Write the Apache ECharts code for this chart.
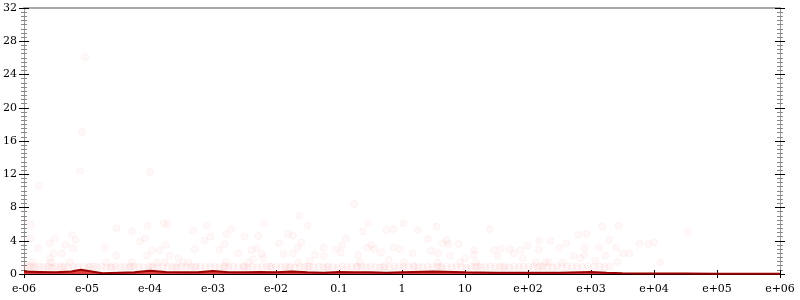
<!DOCTYPE html>
<html>
<head>
<meta charset="utf-8">
<script src="https://cdn.jsdelivr.net/npm/echarts@6/dist/echarts.min.js"></script>
<style>
html,body{margin:0;padding:0;background:#fff;}
#chart{width:800px;height:300px;}
</style>
</head>
<body>
<div id="chart"></div>
<script>
// x tick labels (decades 1e-6 .. 1e6)
var xTickLabels = ["e-06","e-05","e-04","e-03","e-02","0.1","1","10","e+02","e+03","e+04","e+05","e+06"];

// scattered points: x as log10 exponent, y value
var ptExp = [-5.11,-4.0,-5.76,-5.08,-5.03,-5.89,-4.53,-4.29,-3.78,-3.72,-4.04,-3.10,-3.32,-5.24,-5.18,-5.51,-5.89,-3.04,-3.13,-4.08,-4.16,-5.78,-5.34,-5.22,-5.59,-4.72,-3.75,-3.85,-3.97,-3.29,-2.90,-5.53,-5.40,-4.54,-4.05,-3.69,-3.55,-5.59,-5.57,-5.27,-4.69,-4.29,-3.89,-3.77,-3.48,-3.39,-5.87,
 -0.76,-1.63,-2.19,-1.50,-0.54,0.02,-2.71,-2.79,-2.50,-2.28,-1.81,-1.73,-0.25,-0.14,-0.62,0.25,-0.89,-1.60,-1.95,-2.82,-2.30,-2.39,-1.65,-1.25,-1.05,-0.95,-0.55,-0.49,-0.44,-0.13,-0.03,-2.60,-2.23,-1.88,-1.73,-1.38,-1.24,-0.97,-0.70,-0.33,0.17,-2.79,-2.44,-2.36,-2.20,-1.65,-1.47,-0.67,-0.21,0.03,
 0.55,1.39,3.18,3.44,0.41,0.65,0.71,0.74,0.90,2.18,2.36,2.61,2.50,2.80,2.93,3.29,3.13,1.99,0.46,1.14,1.46,1.57,1.71,1.88,2.17,2.90,3.40,0.57,0.76,1.00,1.14,1.52,1.77,1.92,2.72,2.83,2.90,3.23,0.57,0.93,1.17,2.12,2.28,2.33,2.55,3.07,3.42,
 4.54,3.77,3.91,4.00,3.51,3.61,4.10];
var ptY = [12.4,12.3,10.6,17.1,26.1,5.9,5.5,5.1,6.1,6.0,5.8,5.8,5.2,4.7,4.1,4.3,4.3,4.5,4.0,4.3,3.9,3.1,3.5,3.1,3.7,3.2,3.5,2.9,2.8,3.0,2.9,2.5,2.5,2.2,2.2,2.2,1.9,1.9,1.4,1.4,1.4,1.4,1.4,1.4,1.4,1.4,1.4,
 8.4,7.0,6.1,5.8,6.1,6.1,5.4,4.8,4.5,4.6,4.8,4.6,5.3,5.4,5.1,5.3,4.3,3.8,3.7,3.6,3.1,2.9,3.2,3.2,3.0,3.5,3.2,3.5,3.0,3.2,3.0,2.5,2.4,2.4,2.5,2.3,2.2,2.6,2.3,2.6,2.5,1.4,1.4,1.8,1.9,1.4,1.6,1.4,1.7,1.4,
 5.7,5.4,5.7,5.8,4.2,3.7,4.1,3.6,3.6,4.0,4.0,3.7,3.2,4.7,4.8,4.1,3.2,3.4,2.8,2.9,2.9,3.1,3.0,2.9,2.9,3.2,3.2,2.5,2.2,1.9,2.3,2.2,2.5,1.9,2.2,1.9,2.3,2.2,1.4,1.4,1.4,1.4,1.4,1.4,1.4,1.6,1.4,
 5.1,3.7,3.6,3.8,2.5,2.5,1.4];

// dense band of points near y ~ 0.9
var bandExp = [-5.97,-5.93,-5.9,-5.82,-5.76,-5.7,-5.63,-5.55,-5.5,-5.43,-5.36,-5.3,-5.22,-5.15,-5.05,-4.98,-4.9,-4.84,-4.77,-4.7,-4.62,-4.55,-4.47,-4.4,-4.33,-4.25,-4.18,-4.1,-4.02,-3.95,-3.88,-3.8,-3.72,-3.65,-3.57,-3.5,-3.42,-3.35,-3.27,-3.2,-3.12,-3.04,-2.97,-2.9,-2.83,-2.75,-2.68,-2.6,-2.52,-2.45,-2.38,-2.3,-2.22,-2.15,-2.07,-2.0,-1.92,-1.85,-1.77,-1.7,-1.62,-1.55,-1.47,-1.4,-1.32,-1.25,-1.17,-1.1,-1.02,-0.95,-0.87,-0.8,-0.72,-0.64,-0.57,-0.5,-0.42,-0.35,-0.27,-0.2,-0.12,-0.05,0.03,0.1,0.18,0.26,0.33,0.41,0.48,0.56,0.63,0.71,0.79,0.86,0.94,1.02,1.1,1.17,1.25,1.32,1.4,1.48,1.55,1.63,1.7,1.78,1.86,1.93,2.01,2.09,2.16,2.24,2.31,2.39,2.46,2.54,2.62,2.7,2.78,2.86,2.95,3.05,3.14,3.22,3.3,
 -5.85,-5.6,-5.4,-4.95,-4.6,-4.3,-3.98,-3.6,-3.3,-2.8,-2.5,-2.1,-1.8,-1.5,-1.2,-0.7,-0.3,0.2,0.6,1.2,1.6,2.2,2.6,3.0];
var bandY = [0.9,0.85,0.95,0.85,0.9,0.85,0.9,0.8,0.9,0.85,0.9,0.85,0.9,0.85,0.9,0.85,0.9,0.85,0.9,0.85,0.8,0.9,0.85,0.9,0.85,0.9,0.85,0.8,0.9,0.85,0.9,0.85,0.9,0.85,0.8,0.9,0.85,0.9,0.85,0.9,0.85,0.9,0.85,0.8,0.9,0.85,0.9,0.85,0.9,0.85,0.9,0.8,0.85,0.9,0.85,0.9,0.85,0.9,0.85,0.8,0.9,0.85,0.9,0.85,0.9,0.85,0.9,0.85,0.8,0.9,0.85,0.9,0.85,0.9,0.85,0.9,0.85,0.8,0.9,0.85,0.9,0.85,0.9,0.85,0.9,0.85,0.8,0.9,0.85,0.9,0.85,0.9,0.85,0.9,0.85,0.8,0.9,0.85,0.9,0.85,0.9,0.85,0.9,0.85,0.8,0.9,0.85,0.9,0.85,0.9,0.85,0.9,0.85,0.8,0.9,0.85,0.9,0.85,0.9,0.85,0.9,0.85,0.9,
 0.85,0.9,0.85,0.9,0.85,0.9,0.85,0.9,0.85,0.9,0.85,0.9,0.85,0.9,0.85,0.9,0.85,0.9,0.85,0.9,0.85,0.9,0.85,0.9];

// trend line: x as log10 exponent, y value
var lineExp = [-6,-5.75,-5.5,-5.25,-5.1,-5,-4.75,-4.5,-4.25,-4,-3.75,-3.5,-3.25,-3,-2.75,-2.5,-2.25,-2,-1.75,-1.5,-1.25,-1,-0.75,-0.5,-0.25,0,0.5,1,1.5,2,2.5,3,3.25,3.5,4,4.5,5,5.5,6];
var lineY = [0.3,0.25,0.2,0.3,0.5,0.4,0.1,0.15,0.2,0.4,0.25,0.2,0.2,0.35,0.2,0.2,0.25,0.2,0.3,0.2,0.15,0.25,0.2,0.2,0.15,0.2,0.3,0.2,0.15,0.15,0.15,0.25,0.15,0.1,0.05,0.05,0.03,0.02,0.02];

function pairs(ex, ys){ var out=[]; for (var i=0;i<ex.length;i++){ out.push([ex[i], ys[i]]); } return out; }

var font = 'DejaVu Serif';
var chart = echarts.init(document.getElementById('chart'), null, {renderer:'canvas'});
function xLabel(v){ var i = Math.round(v) + 6; return (i>=0 && i<xTickLabels.length) ? xTickLabels[i] : ''; }
// x axis is in log10 units (decades)
var xBase = {type:'value', min:-6, max:6, interval:1, splitLine:{show:false}, minorTick:{show:false}};
var yBase = {type:'value', min:0, max:32, interval:4, splitLine:{show:false}, minorSplitLine:{show:false}};
chart.setOption({
  animation:false,
  backgroundColor:'#fff',
  grid:{left:22, right:20, top:8, bottom:26, containLabel:false},
  xAxis:[
    Object.assign({}, xBase, {position:'bottom', axisLine:{show:true, onZero:false, lineStyle:{color:'#000', width:1}},
      axisTick:{show:true, inside:false, length:4, lineStyle:{color:'#000'}},
      axisLabel:{show:true, formatter:xLabel, fontFamily:font, fontSize:11, color:'#000', margin:10, showMinLabel:true, showMaxLabel:true}}),
    Object.assign({}, xBase, {position:'bottom', axisLine:{show:false, onZero:false},
      axisTick:{show:true, inside:true, length:4, lineStyle:{color:'#000'}}, axisLabel:{show:false}}),
    Object.assign({}, xBase, {position:'top', axisLine:{show:true, onZero:false, lineStyle:{color:'#aaa', width:2}},
      axisTick:{show:false}, axisLabel:{show:false}})
  ],
  yAxis:[
    Object.assign({}, yBase, {position:'left', axisLine:{show:true, onZero:false, lineStyle:{color:'#999', width:1}},
      axisTick:{show:true, inside:false, length:5, lineStyle:{color:'#000'}},
      minorTick:{show:true, splitNumber:8, length:3, lineStyle:{color:'#888'}},
      axisLabel:{show:true, fontFamily:font, fontSize:11, color:'#000', margin:7}}),
    Object.assign({}, yBase, {position:'left', axisLine:{show:false, onZero:false},
      axisTick:{show:true, inside:true, length:5, lineStyle:{color:'#000'}},
      minorTick:{show:true, splitNumber:8, length:3, lineStyle:{color:'#888'}}, axisLabel:{show:false}}),
    Object.assign({}, yBase, {position:'right', axisLine:{show:true, onZero:false, lineStyle:{color:'#999', width:1}},
      axisTick:{show:true, inside:false, length:5, lineStyle:{color:'#000'}},
      minorTick:{show:true, splitNumber:8, length:3, lineStyle:{color:'#888'}}, axisLabel:{show:false}}),
    Object.assign({}, yBase, {position:'right', axisLine:{show:false, onZero:false},
      axisTick:{show:true, inside:true, length:5, lineStyle:{color:'#000'}},
      minorTick:{show:true, splitNumber:8, length:3, lineStyle:{color:'#888'}}, axisLabel:{show:false}})
  ],
  series:[
    {type:'scatter', xAxisIndex:0, yAxisIndex:0, data:pairs(bandExp, bandY), symbol:'circle', symbolSize:7,
     itemStyle:{color:'rgba(255,0,0,0.035)', borderColor:'rgba(230,0,0,0.05)', borderWidth:1}, z:2, silent:true},
    {type:'scatter', xAxisIndex:0, yAxisIndex:0, data:pairs(ptExp, ptY), symbol:'circle', symbolSize:7,
     itemStyle:{color:'rgba(255,0,0,0.035)', borderColor:'rgba(230,0,0,0.05)', borderWidth:1}, z:2, silent:true},
    {type:'line', xAxisIndex:0, yAxisIndex:0, data:pairs(lineExp, lineY), showSymbol:false, smooth:false,
     lineStyle:{color:'#9b0000', width:2}, areaStyle:{color:'#e0403f', opacity:1}, z:5, silent:true}
  ]
});
</script>
</body>
</html>
